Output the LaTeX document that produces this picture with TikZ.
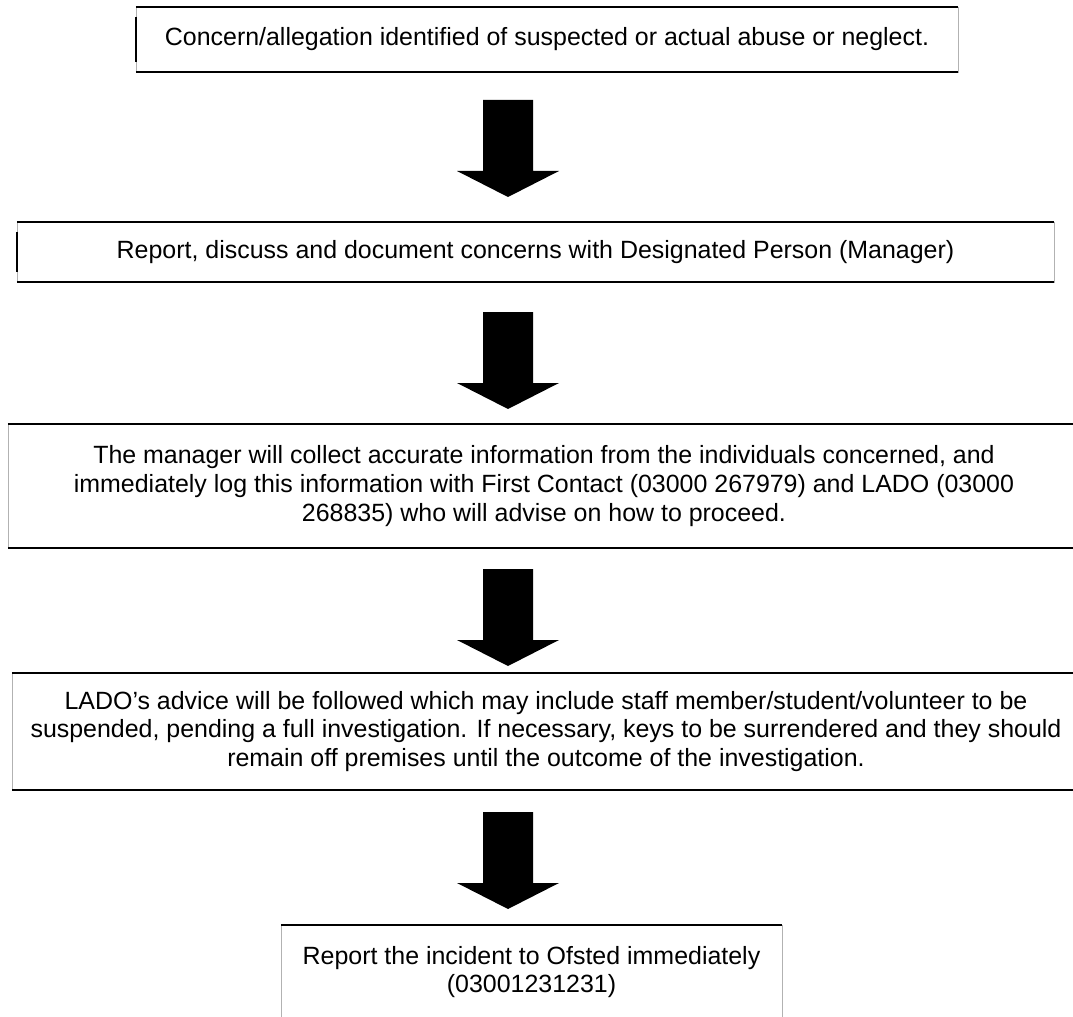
\documentclass[tikz,border=0pt]{standalone}
\usepackage{fontspec}
\setmainfont{Liberation Sans}
\tikzset{
  stepbox/.style={draw=gray!60, line width=0.3pt, align=center, inner sep=0pt,
    font=\fontsize{14.2}{16.3}\selectfont},
  edge/.style={line width=0.9pt},
  bigarrow/.pic={\fill (-25,0) -- (25,0) -- (25,71) -- (51,71) -- (0,97) -- (-51,71) -- (-25,71) -- cycle;}
}
\begin{document}
\begin{tikzpicture}[x=0.02cm,y=-0.02cm]
    \clip (0,0) rectangle (1073,1017);
    \node[stepbox, minimum width=16.44cm, minimum height=1.3cm] (concern) at (547,39.5)
      {Concern/allegation identified of suspected or actual abuse or neglect.};
    \node[stepbox, minimum width=20.74cm, minimum height=1.2cm] (report) at (535.5,252)
      {Report, discuss and document concerns with Designated Person (Manager)};
    \node[stepbox, minimum width=21.44cm, minimum height=2.48cm] (manager) at (544,486)
      {The manager will collect accurate information from the individuals concerned, and\\
       immediately log this information with First Contact (03000 267979) and LADO (03000\\
       268835) who will advise on how to proceed.};
    \node[stepbox, minimum width=21.36cm, minimum height=2.34cm] (lado) at (546,731.5)
      {LADO's advice will be followed which may include staff member/student/volunteer to be\\
       suspended, pending a full investigation. If necessary, keys to be surrendered and they should\\
       remain off premises until the outcome of the investigation.};
    \node[stepbox, minimum width=10.02cm, minimum height=1.88cm] (ofsted) at (531.5,972)
      {Report the incident to Ofsted immediately\\ (03001231231)};
    \foreach \b in {concern,report,manager,lado,ofsted} {
      \draw[edge] (\b.north west) -- (\b.north east);
      \draw[edge] (\b.south west) -- (\b.south east);
    }
    \draw[edge] ([yshift=-0.2cm]concern.north west) -- ([yshift=0.2cm]concern.south west);
    \draw[edge] ([yshift=-0.2cm]report.north west) -- ([yshift=0.2cm]report.south west);
    \pic at (508,100) {bigarrow};
    \pic at (508,312) {bigarrow};
    \pic at (508,569) {bigarrow};
    \pic at (508,812) {bigarrow};
\end{tikzpicture}
\end{document}
